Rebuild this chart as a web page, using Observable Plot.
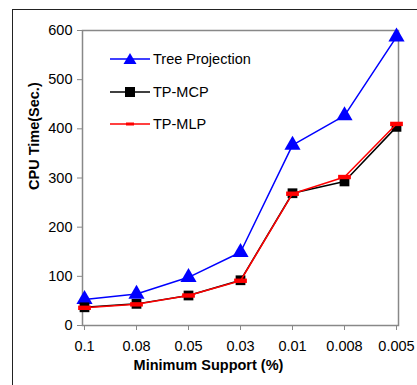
<!DOCTYPE html>
<html><head><meta charset="utf-8">
<script src="https://cdn.jsdelivr.net/npm/d3@7"></script>
<script src="https://cdn.jsdelivr.net/npm/@observablehq/plot@0.6"></script>
<style>
html,body{margin:0;padding:0;background:#fff;}
#wrap{position:relative;width:417px;height:385px;overflow:hidden;font-family:"Liberation Sans",Arial,sans-serif;}
#border{position:absolute;left:12px;top:9px;width:600px;height:600px;border:1.5px solid #222;}
#chart{position:absolute;left:0;top:0;}
#legend{position:absolute;left:110px;top:49px;font-size:14.5px;color:#000;}
#legend .row{display:flex;align-items:center;height:20px;margin-bottom:12.5px;}
#legend svg{margin-right:3px;}
</style></head>
<body><div id="wrap"><div id="border"></div><div id="chart"></div><div id="legend"></div></div>
<script>
const supports = ["0.1","0.08","0.05","0.03","0.01","0.008","0.005"];
const treeProjection = [53, 64, 98, 149, 367, 427, 587];
const tpMCP = [37, 44, 61, 92, 269, 293, 404];
const tpMLP = [36, 43, 61, 91, 268, 302, 410];
const yTicks = [0,100,200,300,400,500,600];
const seriesNames = ["Tree Projection","TP-MCP","TP-MLP"];
const seriesColors = ["#0000ff","#000000","#ff0000"];
const yTitle = "CPU Time(Sec.)";
const xTitle = "Minimum Support (%)";

const rows = s => supports.map((x,i)=>({x, y: s[i]}));
const dTP = rows(treeProjection), dMCP = rows(tpMCP), dMLP = rows(tpMLP);

const dash = {draw(ctx, size){ const w = Math.sqrt(size)*1.6, h = Math.sqrt(size)*0.55; ctx.rect(-w/2,-h/2,w,h);} };

const chart = Plot.plot({
  width: 417, height: 385,
  marginLeft: 82, marginTop: 30, marginRight: 19, marginBottom: 60,
  style: {fontFamily: '"Liberation Sans", Arial, sans-serif', fontSize: "14.5px", color: "#000", background: "transparent"},
  x: {type: "point", domain: supports, padding: 0},
  y: {domain: [0,600]},
  marks: [
    Plot.frame({stroke: "#888", strokeWidth: 1.5}),
    Plot.axisY({ticks: yTicks, tickSize: 5, tickPadding: 5, stroke: "#888", fontSize: 14.5, label: null, tickFormat: d3.format("d")}),
    Plot.axisX({tickSize: 5, tickPadding: 10, stroke: "#888", fontSize: 14.5, label: null}),
    Plot.text([yTitle], {text: d => d, frameAnchor: "left", rotate: -90, dx: -48, dy: 12, fontWeight: "bold", fontSize: 14.5, fill: "#000"}),
    Plot.text([xTitle], {text: d => d, frameAnchor: "bottom", dx: -32, dy: 44, fontWeight: "bold", fontSize: 14.5, fill: "#000"}),
    Plot.line(dTP, {x: "x", y: "y", stroke: seriesColors[0], strokeWidth: 1.5}),
    Plot.dot(dTP, {x: "x", y: "y", symbol: "triangle", r: 6, fill: seriesColors[0], stroke: "none"}),
    Plot.line(dMCP, {x: "x", y: "y", stroke: seriesColors[1], strokeWidth: 1.5}),
    Plot.dot(dMCP, {x: "x", y: "y", symbol: "square", r: 5.5, fill: seriesColors[1], stroke: "none"}),
    Plot.line(dMLP, {x: "x", y: "y", stroke: seriesColors[2], strokeWidth: 1.5}),
    Plot.dot(dMLP, {x: "x", y: "y", symbol: dash, r: 4.5, fill: seriesColors[2], stroke: "none"})
  ]
});
document.getElementById("chart").appendChild(chart);

// legend
const legend = document.getElementById("legend");
const markers = [
  c => `<polygon points="20,-6 26.5,5 13.5,5" fill="${c}"/>`,
  c => `<rect x="15" y="-5" width="10" height="10" fill="${c}"/>`,
  c => `<rect x="16" y="-1.5" width="8" height="3" fill="${c}"/>`
];
seriesNames.forEach((name,i)=>{
  const row = document.createElement("div");
  row.className = "row";
  row.innerHTML = `<svg width="40" height="20" viewBox="0 -10 40 20"><line x1="0" x2="40" y1="0" y2="0" stroke="${seriesColors[i]}" stroke-width="1.5"/>${markers[i](seriesColors[i])}</svg><span>${name}</span>`;
  legend.appendChild(row);
});
</script></body></html>
